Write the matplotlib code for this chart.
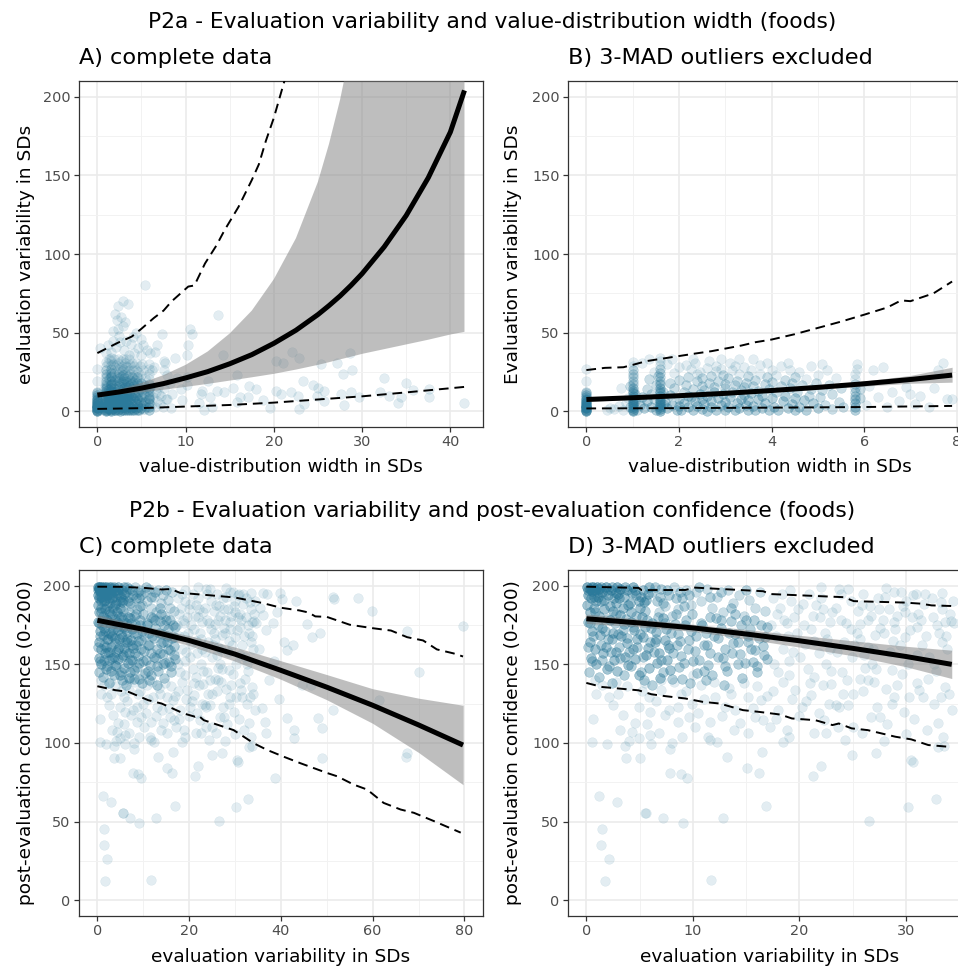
import numpy as np
import matplotlib.pyplot as plt

# ---------------- P2a: value-distribution width vs evaluation variability
# points kept after 3-MAD exclusion (panel B); n = how many overlap there
p2a_width_core = [
    0, 0, 0, 0, 0, 0, 0, 0, 0, 0, 0, 0, 0, 0, 0, 0,
    0.45, 0.5, 0.6, 0.7, 0.8, 0.85, 0.9, 0.75,
    1.0, 1.0, 1.0, 1.0, 1.0, 1.0, 1.0, 1.0, 1.0, 1.0, 1.0, 1.0, 1.0, 1.0, 1.0, 1.0, 1.0, 1.0, 1.0,
    0.95, 1.05, 1.05, 0.95, 1.1,
    1.15, 1.2, 1.25, 1.3, 1.3, 1.35, 1.4, 1.4, 1.45, 1.45, 1.5, 1.5, 1.2, 1.35,
    1.6, 1.6, 1.6, 1.6, 1.6, 1.6, 1.6, 1.6, 1.6, 1.6, 1.6, 1.6, 1.6, 1.6, 1.6, 1.6, 1.6, 1.6, 1.6,
    1.65, 1.65, 1.55,
    1.7, 1.75, 1.8, 1.8, 1.85, 1.9, 1.9, 1.95, 2.0, 2.0, 2.0, 1.75, 1.85, 2.0,
    2.05, 2.1, 2.1, 2.15, 2.2, 2.2, 2.25, 2.25, 2.3, 2.3, 2.35, 2.35, 2.4, 2.4, 2.45, 2.45,
    2.5, 2.5, 2.5, 2.15, 2.3, 2.4, 2.2, 2.5,
    2.55, 2.55, 2.6, 2.6, 2.6, 2.65, 2.65, 2.7, 2.7, 2.7, 2.75, 2.75, 2.8, 2.8, 2.8, 2.85,
    2.85, 2.9, 2.9, 2.95, 2.95, 3.0, 3.0, 3.0, 3.0, 2.9,
    3.05, 3.05, 3.1, 3.1, 3.15, 3.15, 3.2, 3.2, 3.25, 3.25, 3.3, 3.3, 3.3, 3.35, 3.35, 3.4,
    3.4, 3.45, 3.45, 3.5, 3.5, 3.5, 3.4, 3.2,
    3.55, 3.55, 3.6, 3.6, 3.6, 3.65, 3.65, 3.7, 3.7, 3.75, 3.75, 3.8, 3.8, 3.85, 3.85, 3.9,
    3.9, 3.95, 3.95, 4.0, 4.0, 4.0,
    4.05, 4.1, 4.1, 4.15, 4.2, 4.2, 4.25, 4.3, 4.3, 4.35, 4.4, 4.4, 4.45, 4.45, 4.5, 4.5, 4.5, 4.35,
    4.55, 4.6, 4.6, 4.65, 4.7, 4.75, 4.75, 4.8, 4.85, 4.85, 4.9, 4.95, 5.0, 5.0,
    5.05, 5.1, 5.1, 5.15, 5.2, 5.25, 5.3, 5.3, 5.4, 5.45, 5.5, 5.55,
    5.8, 5.8, 5.8, 5.8, 5.8, 5.8, 5.8, 5.8, 5.8, 5.8, 5.85, 5.85, 5.9, 5.9,
    6.05, 6.1, 6.2, 6.3, 6.4, 6.5, 6.6, 6.75, 6.9, 7.0, 7.1, 7.2, 7.4, 7.5, 7.6, 7.7, 7.8, 7.9,
]
p2a_var_core = [
    0.3, 1.0, 1.8, 2.6, 3.4, 4.3, 5.2, 6.1, 7.0, 8.0, 9.1, 10.2, 11.4, 12.3, 19.4, 27.0,
    0.9, 2.0, 1.2, 3.5, 0.6, 5.0, 8.5, 14.5,
    0.3, 1.1, 2.0, 3.2, 4.5, 5.8, 7.0, 8.4, 9.9, 11.5, 13.2, 15.0, 17.1, 19.3, 21.6, 24.0, 26.5, 29.0, 31.5,
    2.6, 6.3, 10.7, 16.0, 0.8,
    4.0, 9.0, 2.2, 14.0, 6.5, 20.5, 3.0, 11.0, 25.0, 7.5, 17.0, 1.0, 30.5, 33.0,
    0.4, 1.4, 2.6, 3.9, 5.2, 6.6, 8.1, 9.7, 11.4, 13.2, 15.1, 17.2, 19.4, 21.7, 24.1, 26.6, 29.2, 31.8, 34.0,
    4.5, 12.5, 22.5,
    6.0, 2.0, 10.5, 18.0, 4.0, 14.5, 24.5, 1.0, 8.0, 20.0, 28.0, 30.0, 33.5, 3.5,
    0.5, 5.5, 12.0, 16.5, 2.5, 22.0, 9.0, 27.0, 0.8, 14.0, 6.5, 31.0, 19.0, 3.5, 11.0, 25.0,
    7.8, 16.0, 1.5, 29.5, 33.0, 24.0, 10.0, 21.0,
    4.5, 13.5, 0.3, 9.5, 27.5, 18.0, 32.0, 2.5, 6.5, 22.5, 12.0, 15.5, 1.0, 25.5, 29.0, 8.5,
    19.5, 4.0, 33.5, 11.0, 23.0, 0.8, 14.5, 17.5, 6.0, 27.0,
    3.0, 21.0, 9.0, 30.5, 12.5, 26.0, 0.5, 16.5, 5.5, 19.5, 2.0, 24.0, 33.0, 8.0, 13.5, 28.0,
    10.5, 4.0, 18.0, 1.0, 22.5, 7.0, 15.5, 29.0,
    11.5, 26.5, 3.5, 16.0, 33.5, 0.5, 20.0, 7.5, 13.0, 24.0, 29.5, 2.0, 10.0, 17.5, 5.0, 21.5,
    31.0, 1.0, 14.0, 8.5, 26.0, 18.5,
    3.0, 12.0, 23.0, 0.8, 16.0, 29.0, 6.5, 20.0, 10.0, 2.0, 14.5, 26.5, 4.5, 18.0, 8.5, 22.0, 0.5, 31.0,
    12.5, 3.0, 25.0, 16.5, 7.0, 20.5, 1.0, 10.0, 28.5, 14.0, 5.0, 18.0, 2.0, 23.0,
    9.0, 30.0, 13.5, 4.0, 26.0, 17.0, 1.5, 11.0, 21.0, 6.0, 15.0, 3.0,
    0.5, 2.5, 5.0, 7.5, 10.0, 12.5, 15.0, 17.5, 20.5, 24.0, 27.0, 30.0, 8.5, 14.0,
    4.0, 16.0, 26.0, 9.0, 28.0, 3.0, 12.5, 6.5, 15.5, 11.0, 4.5, 9.5, 2.5, 14.5, 26.5, 31.0, 8.0, 7.5,
]
p2a_n_core = [
    6, 6, 6, 6, 5, 5, 5, 4, 4, 3, 3, 3, 2, 2, 1, 1,
    1, 1, 1, 1, 1, 1, 1, 1,
    4, 4, 4, 4, 4, 4, 3, 3, 3, 3, 3, 3, 2, 2, 2, 2, 2, 1, 1,
    2, 2, 2, 2, 2,
    3, 3, 3, 2, 3, 2, 3, 2, 1, 2, 2, 3, 1, 1,
    4, 4, 4, 4, 4, 4, 3, 3, 3, 3, 3, 3, 2, 2, 2, 2, 1, 1, 1,
    2, 2, 2,
    3, 3, 3, 2, 3, 2, 1, 3, 3, 2, 1, 1, 1, 3,
    3, 3, 2, 2, 3, 2, 3, 1, 3, 2, 3, 1, 2, 3, 3, 1,
    3, 2, 3, 1, 1, 1, 3, 2,
    3, 2, 3, 3, 1, 2, 1, 3, 3, 2, 3, 2, 3, 1, 1, 3,
    2, 3, 1, 3, 2, 3, 2, 2, 3, 1,
    3, 2, 3, 1, 2, 1, 3, 2, 3, 2, 3, 1, 1, 3, 2, 1,
    3, 3, 2, 3, 2, 3, 2, 1,
    3, 1, 3, 2, 1, 3, 2, 3, 2, 1, 1, 3, 3, 2, 3, 2,
    1, 3, 2, 3, 1, 2,
    3, 2, 1, 3, 2, 1, 3, 2, 3, 3, 2, 1, 3, 2, 3, 2, 3, 1,
    2, 3, 1, 2, 3, 1, 3, 2, 1, 2, 3, 2, 3, 1,
    2, 1, 2, 2, 1, 2, 2, 2, 1, 2, 2, 2,
    3, 3, 3, 3, 2, 2, 2, 2, 1, 1, 1, 1, 2, 2,
    1, 1, 1, 1, 1, 1, 1, 1, 1, 1, 1, 1, 1, 1, 1, 1, 1, 1,
]
# points removed by the exclusion (shown only in panel A)
p2a_width_out = [
    5.4, 2.9, 3.5, 2.3, 2.7, 2.2, 2.3, 2.9, 1.8, 7.3, 4.0, 3.3, 1.8, 5.2, 5.6, 6.0, 1.2, 4.6,
    0.3, 2.5, 3.8, 4.9, 1.5, 2.1, 3.0, 4.2, 5.0, 6.5, 2.6, 3.6, 1.0, 4.4, 3.1, 2.0, 6.8,
    10.5, 10.7, 13.7, 10.3, 8.8, 7.6, 10.2, 14.2, 22.1, 22.8, 21.0, 20.2, 25.3, 28.6, 27.2,
    27.8, 28.9, 32.5, 35.0, 35.8, 37.6, 37.6, 41.5, 34.1, 34.4, 32.0, 33.1, 27.9, 27.6, 28.7,
    29.6, 24.4, 25.0, 25.7, 23.3, 21.9, 22.7, 20.8, 20.2, 22.9, 23.4, 25.7, 24.9, 19.6, 18.8,
    18.0, 17.1, 16.2, 15.8, 15.4, 14.3, 13.6, 12.8, 12.1, 11.9, 11.7, 10.2, 9.6, 8.3, 8.5,
    7.9, 9.0, 10.2, 17.2, 15.8, 11.5, 13.0, 9.5, 8.2, 12.5,
]
p2a_var_out = [
    80, 70, 68, 67, 60, 58, 52, 54, 51, 49, 47, 45, 45, 42, 39, 37, 42, 40,
    40, 48, 43, 46, 38, 41, 39, 37, 36, 38, 44, 36, 37, 50, 57, 62, 42,
    52, 49, 61, 42, 34, 32, 36, 36, 38, 34, 31, 32, 30, 37, 31,
    24, 26, 21, 18, 13.5, 14, 9, 5.5, 5, 9, 12, 10, 4, 11, 12,
    9, 16.5, 15, 13, 19, 12, 10, 11, 13, 1.3, 4.4, 6.5, 10, 2, 7,
    14, 9, 9, 6, 15, 12, 13, 9, 1, 13, 11, 17, 7, 2, 11,
    23, 21, 22, 16, 23, 5, 3, 14, 18, 19,
]

# panel A model: fit, confidence band, prediction interval
p2a_fit_x = [0, 2.5, 5, 7.5, 10, 12.5, 15, 17.5, 20, 22.5, 25, 26.25, 27.5, 28.75, 30, 32.5,
             35, 37.5, 40, 41.6]
p2a_fit_y = [10.3, 12.3, 14.7, 17.6, 21.2, 25.2, 30.2, 36.0, 43.2, 51.5, 61.5, 67.2, 73.3,
             80.1, 87.5, 104.5, 124.5, 148.5, 177.5, 204]
p2a_fit_lo = [9.6, 10.8, 12.0, 13.7, 15.5, 17.4, 19.5, 21.6, 23.8, 26.5, 29.5, 31.2, 33,
              34.7, 36.5, 39.5, 42.5, 45.5, 48.8, 50.5]
p2a_fit_hi = [11.0, 14.0, 18.0, 23.0, 29.5, 38, 49.5, 64, 84, 110, 146, 170, 198,
              232, 270, 350, 450, 580, 740, 880]
p2a_pi_hi_x = [0, 2.3, 3.9, 5, 6.4, 7.5, 8.4, 10.3, 11, 12.2, 13.5, 14.4, 16, 17.5, 18.3, 19.1, 20, 21.3]
p2a_pi_hi_y = [37, 43.5, 47.5, 52.5, 59.3, 64, 69.8, 79.3, 80, 94, 105.5, 115, 130, 147, 157,
               172, 186.6, 212]
p2a_pi_lo_x = [0, 5, 10, 15, 20, 25, 30, 35, 41.6]
p2a_pi_lo_y = [1.5, 2.0, 3.0, 4.0, 5.5, 7.5, 9.5, 12, 15.5]

# panel B model
p2a_excl_fit_x = [0, 1, 2, 3, 4, 5, 6, 7, 7.9]
p2a_excl_fit_y = [7.5, 8.6, 9.9, 11.4, 13.2, 15.2, 17.5, 20.2, 23.0]
p2a_excl_fit_lo = [6.3, 7.6, 9.0, 10.6, 12.4, 14.1, 16.0, 17.8, 18.5]
p2a_excl_fit_hi = [8.8, 9.7, 10.9, 12.4, 14.1, 16.4, 19.2, 22.8, 28.0]
p2a_excl_pi_hi_x = [0, 0.4, 0.8, 1.0, 1.3, 1.8, 2.35, 2.7, 3.35, 3.65, 4.0, 4.5, 5.0, 5.5, 6.0,
                    6.5, 6.8, 7.0, 7.5, 7.9]
p2a_excl_pi_hi_y = [26.2, 27.6, 28.0, 29.5, 31.9, 34.2, 36.7, 38.2, 41.8, 43.9, 45.6, 49.0, 53,
                    57, 61.4, 66, 70.5, 70, 75, 82.5]
p2a_excl_pi_lo_x = [0, 2, 4, 6, 7.9]
p2a_excl_pi_lo_y = [1.8, 2.0, 2.3, 2.7, 3.4]

# ---------------- P2b: evaluation variability vs post-evaluation confidence
# points kept after 3-MAD exclusion (panel D)
p2b_var_core = [
    # top band
    0.1, 0.3, 0.5, 0.2, 0.6, 0.8, 0.4, 0.9, 0.1, 0.7, 1.0, 0.3,
    1.2, 1.5, 1.8, 2.0, 2.3, 2.6, 2.9, 1.4, 2.2, 1.7, 2.8, 1.1, 2.5, 3.0,
    3.2, 3.5, 3.8, 4.1, 4.4, 4.7, 5.0, 5.3, 5.6, 5.9, 3.4, 4.2, 4.9, 5.5,
    6.2, 6.6, 7.0, 7.4, 7.8, 8.2, 8.6, 9.0, 9.4, 9.8, 6.8, 8.0,
    10.3, 10.8, 11.3, 11.8, 12.3, 12.8, 13.3, 13.8, 14.3, 14.8, 15.3, 15.8, 16.3, 16.8,
    # middle band
    0.2, 0.5, 0.3, 0.8, 0.4, 0.9, 1.2, 1.5, 1.3, 1.8, 1.6, 1.9, 2.2, 2.5, 2.4, 2.8, 2.6, 2.9,
    3.2, 3.5, 3.3, 3.8, 3.6, 3.9, 4.2, 4.5, 4.4, 4.8, 4.6, 4.9, 5.2, 5.5, 5.3, 5.8, 5.6, 5.9,
    6.2, 6.5, 6.4, 6.8, 6.6, 6.9, 7.2, 7.5, 7.4, 7.8, 7.6, 7.9,
    8.3, 8.6, 8.5, 8.9, 8.7, 9.0, 9.4, 9.8, 9.6, 10.2, 10.0, 10.4, 10.8, 11.2, 11.0, 11.6,
    11.4, 11.8, 12.2, 12.6, 12.4, 13.0, 12.8, 13.2, 13.6, 14.0, 13.8, 14.4, 14.2, 14.6,
    15.0, 15.4, 15.2, 15.8, 15.6, 16.0, 16.4, 16.8, 16.6, 17.0,
    # lower left
    2.1, 3.0, 4.9, 5.9, 4.6, 6.0, 6.8, 6.0, 4.9, 4.3, 7.4, 8.6, 8.6, 9.6, 10.5, 9.9, 11.6,
    12.1, 13.0, 14.0, 14.4, 15.2, 15.8, 16.6, 15.2, 16.4, 11.4, 1.5, 2.8, 3.8, 5.5, 7.0, 8.2,
    9.4, 10.8, 12.0, 13.4, 14.8, 16.0, 0.8, 17.5, 18.5, 19.3, 18.0, 20.0, 17.2, 19.0,
    # right band
    22, 23.7, 28.1, 33.4, 28.9, 30.7, 33.7, 34.2, 33.4, 31, 29.2, 29, 27.5, 26.7, 25.7, 23.9,
    24.8, 22.9, 22.2, 21.1, 20.3, 19.5, 19.2, 21.3, 25.7, 26.4, 27.1, 31.1, 31.7, 29.9, 33.3,
    17.5, 18.2, 18.8, 17.8, 18.5, 19.8, 20.5, 21.8, 19.0, 20.8, 22.5, 23.5, 24.2, 24.8, 25.5,
    26.0, 27.8, 28.5, 30.2, 31.5, 32.2, 32.8, 33.8, 34.5, 30.0, 26.8, 24.0, 22.0, 29.5, 32.5,
    21.4, 23, 22.2, 23.4, 23.7, 22.8, 24.1, 25, 25.7, 26.4, 27, 28.1, 28.9, 29.2, 29.6, 28.7,
    30.3, 31.6, 33.3, 33.7, 32.1, 34.3, 21.1, 20.2, 26.7, 27.6, 28.7, 21.4, 25.9, 22.3, 25,
    23.6, 22.5, 30.8, 32.0, 33.5,
    17.3, 17.9, 18.4, 18.9, 19.4, 19.9, 20.4, 20.9, 21.4, 21.9, 22.4, 22.9, 23.4, 23.9, 24.4,
    24.9, 25.4, 25.9, 26.4, 26.9, 27.4, 27.9, 28.4, 28.9, 29.4, 29.9, 30.4, 30.9, 31.4, 31.9,
    32.4, 32.9, 33.4, 33.9, 34.4, 18.0, 21.0, 24.5, 27.2, 31.0,
    # low scatter
    0.53, 1.93, 3.66, 4.0, 6.1, 7.88, 8.0, 3.7, 5.0, 7.81, 8.87, 9.44, 11.6, 12.3, 13.2, 15.1,
    16.2, 16.5, 18.5, 21.3, 22.0, 24.9, 27.2, 27.9, 30.5, 30.7, 33.0, 33.6, 1.22, 2.9, 5.5,
    5.6, 7.2, 9.1, 12.8, 16.9, 26.5, 30.2, 32.8, 1.5, 1.41, 2.16, 1.72, 11.7,
]
p2b_conf_core = [
    199.5, 198, 196.5, 194, 199, 197, 192, 190, 188, 186, 199.5, 183,
    198, 196, 199, 194, 197, 192, 199, 190, 187, 185, 189, 193, 184, 195,
    198, 193, 197, 189, 199, 194, 186, 197, 191, 199, 186, 183, 190, 184,
    196, 190, 198, 187, 194, 199, 185, 192, 197, 188, 183, 181,
    196, 190, 198, 186, 193, 183, 197, 189, 194, 181, 191, 186, 196, 184,
    177, 171.5, 164, 159.5, 154, 150.5, 180.5, 173, 168.5, 161, 157.5, 147,
    178.5, 170, 166, 158, 152.5, 145.5,
    181.5, 175.5, 168, 163.5, 155, 149.5, 177, 172, 160, 166, 153.5, 143.5,
    180, 173.5, 167.5, 160.5, 156, 147.5,
    176.5, 170.5, 164.5, 157, 151, 141.5, 179.5, 172.5, 165.5, 160.5, 153, 146.5,
    175.5, 169.5, 162.5, 155.5, 148.5, 140.5, 178.5, 171, 165.5, 158.5, 152, 144.5,
    176.5, 170, 162, 157.5, 149.5, 143, 179.5, 173, 166.5, 159.5, 154, 146,
    177.5, 169, 163.5, 156.5, 150.5, 141.5, 178.5, 172.5, 164.5, 159, 151.5, 145,
    175, 167.5, 161.5, 153.5,
    129.3, 131.4, 123, 129.3, 112.4, 119.8, 106.1, 105, 103, 107.2, 117.7, 123, 113.5, 116.6,
    118.8, 125, 113.5, 129.3, 123, 120.8, 112.4, 106.1, 116.6, 114.5, 129.3, 127.2, 104, 137,
    139, 136, 138, 134, 139, 133, 137, 139, 135, 138, 136, 140, 133, 139, 128, 121, 117, 110, 104,
    199.4, 198, 198.6, 195.2, 196, 193.8, 176.8, 177.8, 164.1, 173.6, 181, 172.5, 185.3, 181,
    175.8, 177.9, 172.5, 176.8, 185.3, 172.5, 188.5, 180, 190.6, 181, 166.3, 161, 168.4, 182,
    188.5, 167.3, 189.6,
    192, 186, 176, 168, 160, 170, 163, 157, 152, 147, 150, 158, 164, 190, 184, 195, 178, 158,
    150, 162, 155, 146, 168, 176, 190, 150, 145, 192, 196, 180,
    142, 137.8, 136.7, 124, 123, 125, 131.4, 131.4, 141, 140, 138.9, 134.6, 129.3, 136.7, 144,
    146.3, 129.3, 129.3, 129.3, 135.7, 141, 120.8, 130.3, 123, 116.6, 116.6, 125, 106.1, 106.1,
    114.5, 110.3, 110.3, 106.1, 115, 108, 104,
    175, 182, 195, 168, 158, 185, 175, 195, 165, 180, 170, 160, 186, 195, 176,
    155, 170, 188, 178, 160, 192, 170, 185, 177, 162, 183, 172, 195, 178, 168,
    192, 175, 185, 160, 190, 145, 138, 140, 147, 138,
    100.8, 99.3, 98, 101, 99.3, 96.1, 100, 90.2, 90.2, 81.1, 80.1, 78, 101.8, 100.8, 91.3, 84.3,
    81.1, 94, 100.8, 79, 85.4, 92.3, 93.4, 101, 89.2, 87.7, 97.6, 98, 66.4, 62.3, 55.4,
    55.2, 52.2, 49.4, 52.2, 60.2, 50.1, 59.2, 64.3, 45.2, 35.1, 26.2, 12, 13.1,
]
# overlap counts: top band listed, middle band left part heavier, rest single
p2b_n_top = [6, 6, 6, 5, 6, 5, 5, 4, 4, 4, 6, 4,
             6, 5, 6, 5, 5, 4, 5, 4, 4, 4, 4, 5, 4, 5,
             5, 4, 5, 4, 5, 4, 4, 4, 4, 4, 4, 4, 4, 3,
             3, 3, 3, 2, 3, 2, 2, 3, 2, 2, 2, 2,
             2, 2, 2, 2, 2, 2, 2, 2, 2, 2, 2, 2, 2, 2]
p2b_n_core = (p2b_n_top + [4] * 48 + [3] * 40
              + [1] * (len(p2b_var_core) - len(p2b_n_top) - 88))

# further points: dense upper-left block, then the sparser lower and right parts
p2b_var_dense = [
    0.15, 0.45, 0.75, 1.05, 1.35, 1.65, 1.95, 2.45, 2.75, 3.1, 3.6, 3.9, 4.3, 4.6, 5.1, 5.4, 5.8,
    6.4, 6.9, 7.2, 7.6, 8.4, 8.8, 9.2, 9.6, 10.6, 11.6, 12.6, 13.6, 15.0,
    0.35, 0.65, 0.15, 0.55, 0.85, 1.05, 1.35, 1.75, 1.45, 1.95,
    2.05, 2.35, 2.65, 2.95, 2.15, 2.75, 3.05, 3.45, 3.15, 3.75,
    3.85, 4.05, 4.35, 4.65, 4.15, 4.75, 5.05, 5.35, 5.65, 5.95,
    5.15, 6.05, 6.35, 6.75, 6.55, 7.05, 7.35, 7.65, 7.15, 7.95,
    8.15, 8.45, 8.75, 9.15, 9.25, 9.55, 9.95, 10.25, 10.55, 10.85,
    11.05, 11.35, 11.65, 11.95, 12.35, 12.65, 13.05, 13.35, 13.65, 13.95,
    14.25, 14.55, 14.85, 15.15, 15.45, 15.75, 16.05, 16.25, 16.65, 16.95,
    0.25, 1.15, 2.45, 3.55, 5.45, 6.15, 8.05, 9.75, 11.25, 12.95,
    0.9, 2.5, 3.4, 5.2, 6.5, 7.8, 8.9, 10.2, 11.0, 12.7, 13.6, 15.6, 17.0, 17.8, 19.6, 20.6,
    21.8, 24.6, 26.0, 27.3, 28.2, 29.8, 31.2, 32.6, 34.0, 0.6, 3.2, 5.7, 9.0, 13.9, 18.8,
    24.3, 30.0, 33.0, 7.0, 10.0, 19.0, 23.0, 26.2, 32.6,
    17.6, 19.1, 20.1, 21.6, 23.1, 24.6, 25.1, 26.6, 27.6, 28.8, 29.7, 30.6, 31.8, 33.1, 34.1,
    18.6, 22.6, 26.1, 28.0, 31.0,
]
p2b_conf_dense = [
    197.5, 199.5, 193, 196, 199.5, 191, 197, 199.5, 195.5, 192, 199, 188, 195.5, 197.5, 193,
    189.5, 194.5, 199, 193, 189, 197.5, 192.5, 196, 187, 194, 199, 193, 196, 186, 197,
    176.5, 168, 161, 152, 183, 175, 162, 171, 153, 179,
    166, 158, 176, 169, 149, 182, 161, 172, 154, 179,
    167, 158, 174, 181, 149, 161, 169, 155, 178, 164,
    145, 173, 158, 180, 166, 153, 176, 162, 145, 170,
    157, 182, 165, 151, 175, 160, 182, 168, 153, 175,
    146, 162, 180, 168, 155, 178, 149, 170, 157, 182,
    164, 175, 151, 168, 160, 178, 149, 167, 156, 174,
    145, 142, 138, 143, 140, 137, 141, 138, 140, 137,
    131, 124, 118, 133, 127, 121, 131, 110, 128, 117, 131, 122, 130, 115, 134, 127,
    119, 124, 133, 123, 112, 120, 134, 125, 131, 115, 108, 112, 104, 108, 108,
    102, 106, 113, 140, 143, 143, 146, 148, 150,
    150, 197, 155, 188, 183, 198, 162, 187, 173, 165, 187, 180, 195, 170, 182,
    178, 166, 156, 193, 156,
]
p2b_n_dense = [4] * 17 + [3] * 13 + [3] * 80 + [1] * 60

# points removed by the exclusion (shown only in panel C)
p2b_var_out = [
    36.2, 39.8, 40.3, 43.4, 51.4, 51.5, 56.9, 59.8, 79.7, 67.4, 45.8, 46.8, 48.5, 40.7, 42.7,
    41.4, 44.7, 46.5, 70.1, 61.4, 51.4, 48.1, 41.4, 42.8, 42.9, 49.0, 48.9, 67.2, 67.5, 38.8,
    36.7, 36.5, 36.1, 35.5, 36.8, 35.2, 38.5, 37.5, 39.5, 35.8, 38.2, 37.0, 39.2,
]
p2b_conf_out = [
    195.2, 195.2, 191.6, 190.6, 193.1, 191.6, 192.3, 184.2, 174.1, 171.5, 175.8, 167.3, 169.9,
    164.2, 162, 159, 136.7, 136.7, 145.1, 127.6, 120.8, 115.6, 115.6, 108.2, 103, 90.2, 109.3,
    91.3, 93.4, 77.6, 106.1, 113.5, 181.2, 186, 172, 160, 152, 140, 128, 122, 176, 195, 183,
]

# panel C model
p2b_fit_x = [0, 10, 20, 30, 40, 50, 60, 70, 79.7]
p2b_fit_y = [178, 172.3, 165.2, 156.5, 146.2, 135.5, 124, 111.5, 98.7]
p2b_fit_lo = [174.5, 170, 162, 152, 140.5, 127.5, 112.5, 94, 73.5]
p2b_fit_hi = [181.5, 174.5, 168.3, 161, 152.3, 143.5, 134.5, 128.5, 124]
p2b_pi_hi_x = [0, 5, 10, 14, 16, 18, 25, 30, 36, 40, 44, 46, 47.5, 50, 55, 60, 64, 67.5, 71,
               74, 77.6, 79.7]
p2b_pi_hi_y = [199.4, 199.3, 198.7, 197.6, 197.9, 195.5, 193.8, 192.5, 189, 186, 184.3, 183,
               180.5, 180.2, 175.2, 173, 171.5, 167.3, 165.2, 159.5, 157, 155]
p2b_pi_lo_x = [0, 3.9, 6.8, 11.1, 14, 18.8, 21.3, 22.0, 23.2, 29.7, 34.1, 37, 40.6, 44.3,
               50.1, 52.3, 55.9, 58.8, 62.4, 66.1, 69, 73.3, 79.2]
p2b_pi_lo_y = [136.1, 133.6, 132.5, 127.2, 125.1, 118.8, 116.7, 117.5, 114.5, 108.2, 99.8,
               95.6, 91.3, 87.1, 80.9, 78.8, 73.5, 70.4, 61.9, 57.7, 55.6, 50.4, 43]

# panel D model
p2b_excl_fit_x = [0, 5, 10, 15, 20, 25, 30, 34.3]
p2b_excl_fit_y = [179, 176.3, 173.2, 169.3, 165, 160.2, 155, 150]
p2b_excl_fit_lo = [176, 173.8, 171, 166.2, 161, 155.5, 148.5, 141]
p2b_excl_fit_hi = [182, 178.8, 175.5, 172.2, 168.5, 165, 161.5, 159]
p2b_excl_pi_hi_x = [0, 4.9, 5.2, 9.3, 10.2, 16.6, 17.3, 24.2, 25.1, 29.8, 31.4, 32.4, 34.3]
p2b_excl_pi_hi_y = [199.4, 198.6, 197.2, 197.3, 198.8, 196.5, 194.7, 192.7, 190.2, 189.3,
                    188.6, 187.5, 187.1]
p2b_excl_pi_lo_x = [0, 1.5, 4.9, 6.1, 7.4, 9.3, 10.9, 12.5, 14.7, 16.2, 18.2, 19.3, 21.5,
                    23.1, 23.7, 24.9, 26.4, 29, 30.5, 32.1, 34]
p2b_excl_pi_lo_y = [138.2, 135.6, 133.5, 131, 129.8, 128.3, 126.2, 125.1, 120.9, 119.8, 118.1,
                    115.6, 114.5, 111.4, 112.4, 109.3, 108.2, 104, 102.3, 98.7, 97.6]

POINT = '#2B7A9B'
W, H = 958, 968

fig = plt.figure(figsize=(W / 100, H / 100), dpi=100)


def panel(left, top, xlim, xmaj, xmin):
    ax = fig.add_axes([left / W, 1 - (top + 346) / H, 404 / W, 346 / H])
    ax.set_xlim(xlim)
    ax.set_ylim(-10, 210)
    ax.set_xticks(xmaj)
    ax.set_xticks(xmin, minor=True)
    ax.set_yticks([0, 50, 100, 150, 200])
    ax.set_yticks([25, 75, 125, 175], minor=True)
    ax.grid(which='major', color='#EBEBEB', lw=1.2)
    ax.grid(which='minor', color='#F2F2F2', lw=0.7)
    ax.set_axisbelow(True)
    for sp in ax.spines.values():
        sp.set_color('#333333')
        sp.set_linewidth(0.9)
    ax.tick_params(which='major', direction='out', length=3.5, width=0.9, color='#333333',
                   labelcolor='#4D4D4D', labelsize=10.4, pad=2.5)
    ax.tick_params(which='minor', length=0)
    return ax


def draw(ax, px, py, pn, fx, fy, flo, fhi, hx, hy, lx, ly):
    ax.scatter(np.repeat(px, pn), np.repeat(py, pn), s=48, color=POINT, alpha=0.13,
               edgecolors=POINT, linewidths=0.35, zorder=2)
    ax.fill_between(fx, flo, fhi, color='#7F7F7F', alpha=0.5, lw=0, zorder=3)
    ax.plot(fx, fy, color='black', lw=3.6, zorder=4, solid_capstyle='butt')
    ax.plot(hx, hy, color='black', lw=1.4, dashes=(5, 3), zorder=4)
    ax.plot(lx, ly, color='black', lw=1.4, dashes=(5, 3), zorder=4)


ones_a = [1] * len(p2a_width_out)
ones_b = [1] * len(p2b_var_out)

axA = panel(79, 81, (-2.08, 43.7), [0, 10, 20, 30, 40], [5, 15, 25, 35])
draw(axA, p2a_width_core + p2a_width_out, p2a_var_core + p2a_var_out, p2a_n_core + ones_a,
     p2a_fit_x, p2a_fit_y, p2a_fit_lo, p2a_fit_hi, p2a_pi_hi_x, p2a_pi_hi_y, p2a_pi_lo_x, p2a_pi_lo_y)

axB = panel(568, 81, (-0.397, 8.33), [0, 2, 4, 6, 8], [1, 3, 5, 7])
draw(axB, p2a_width_core, p2a_var_core, p2a_n_core,
     p2a_excl_fit_x, p2a_excl_fit_y, p2a_excl_fit_lo, p2a_excl_fit_hi,
     p2a_excl_pi_hi_x, p2a_excl_pi_hi_y, p2a_excl_pi_lo_x, p2a_excl_pi_lo_y)

axC = panel(79, 570, (-4.0, 84.05), [0, 20, 40, 60, 80], [10, 30, 50, 70])
draw(axC, p2b_var_core + p2b_var_dense + p2b_var_out,
     p2b_conf_core + p2b_conf_dense + p2b_conf_out, p2b_n_core + p2b_n_dense + ones_b,
     p2b_fit_x, p2b_fit_y, p2b_fit_lo, p2b_fit_hi, p2b_pi_hi_x, p2b_pi_hi_y, p2b_pi_lo_x, p2b_pi_lo_y)

axD = panel(568, 570, (-1.72, 36.2), [0, 10, 20, 30], [5, 15, 25, 35])
draw(axD, p2b_var_core + p2b_var_dense, p2b_conf_core + p2b_conf_dense, p2b_n_core + p2b_n_dense,
     p2b_excl_fit_x, p2b_excl_fit_y, p2b_excl_fit_lo, p2b_excl_fit_hi,
     p2b_excl_pi_hi_x, p2b_excl_pi_hi_y, p2b_excl_pi_lo_x, p2b_excl_pi_lo_y)


def ftext(x, y, s, **kw):
    fig.text(x / W, 1 - y / H, s, **kw)


# titles
ftext(492, 28, 'P2a - Evaluation variability and value-distribution width (foods)',
      fontsize=15.7, ha='center', va='baseline')
ftext(492, 517, 'P2b - Evaluation variability and post-evaluation confidence (foods)',
      fontsize=15.7, ha='center', va='baseline')
ftext(79, 64, 'A) complete data', fontsize=16.1, va='baseline')
ftext(568, 64, 'B) 3-MAD outliers excluded', fontsize=16.1, va='baseline')
ftext(79, 553, 'C) complete data', fontsize=16.1, va='baseline')
ftext(568, 553, 'D) 3-MAD outliers excluded', fontsize=16.1, va='baseline')

# axis labels
lab = dict(fontsize=13.3, color='black')
ftext(281, 472, 'value-distribution width in SDs', ha='center', va='baseline', **lab)
ftext(770, 472, 'value-distribution width in SDs', ha='center', va='baseline', **lab)
ftext(281, 962, 'evaluation variability in SDs', ha='center', va='baseline', **lab)
ftext(770, 962, 'evaluation variability in SDs', ha='center', va='baseline', **lab)
ftext(26, 254, 'evaluation variability in SDs', ha='center', va='center', rotation=90, **lab)
ftext(513, 254, 'Evaluation variability in SDs', ha='center', va='center', rotation=90, **lab)
ftext(26, 743, 'post-evaluation confidence (0-200)', ha='center', va='center', rotation=90, **lab)
ftext(513, 743, 'post-evaluation confidence (0-200)', ha='center', va='center', rotation=90, **lab)

fig.savefig('out.png', dpi=100)
